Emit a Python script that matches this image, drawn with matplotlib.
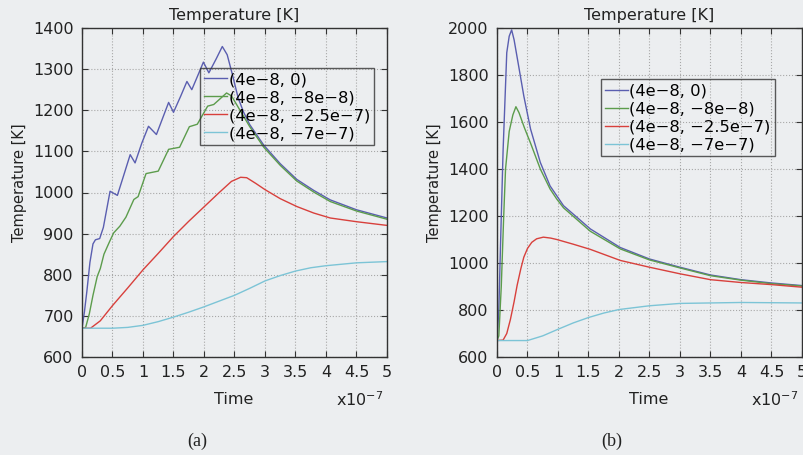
import numpy as np
import matplotlib.pyplot as plt
from matplotlib.ticker import FormatStrFormatter, MultipleLocator

# time axis in units of 1e-7 s
labels = ['(4e\u22128, 0)', '(4e\u22128, \u22128e\u22128)', '(4e\u22128, \u22122.5e\u22127)', '(4e\u22128, \u22127e\u22127)']
colors = ['#5a5eb0', '#5c9c4c', '#d8403c', '#7cc4d6']

# panel (a)
ta_blue = [0, 0.04, 0.08, 0.13, 0.18, 0.22, 0.29, 0.35, 0.46, 0.58, 0.68, 0.79, 0.87, 0.98, 1.09, 1.22,
           1.32, 1.42, 1.50, 1.62, 1.72, 1.80, 1.90, 1.99, 2.08, 2.20, 2.30, 2.38, 2.46, 2.56, 2.65, 2.75,
           2.98, 3.25, 3.52, 3.8, 4.07, 4.5, 5.0]
Ta_blue = [670, 710, 760, 830, 875, 885, 888, 915, 1003, 993, 1040, 1092, 1072, 1120, 1161, 1141,
           1180, 1219, 1195, 1235, 1270, 1250, 1285, 1317, 1291, 1325, 1355, 1335, 1290, 1230, 1195, 1165,
           1115, 1070, 1032, 1005, 982, 958, 938]
ta_green = [0, 0.06, 0.12, 0.18, 0.25, 0.30, 0.36, 0.45, 0.52, 0.62, 0.72, 0.85, 0.92, 1.05, 1.25,
            1.42, 1.60, 1.76, 1.89, 2.06, 2.16, 2.37, 2.45, 2.55, 2.65, 2.75, 2.98, 3.25, 3.52, 3.8,
            4.07, 4.5, 5.0]
Ta_green = [670, 672, 705, 750, 796, 815, 850, 880, 902, 918, 940, 983, 990, 1046, 1052,
            1105, 1110, 1160, 1166, 1210, 1214, 1242, 1235, 1210, 1185, 1160, 1110, 1066, 1028, 1001,
            978, 955, 935]
ta_red = [0, 0.14, 0.3, 0.5, 0.75, 1.0, 1.25, 1.5, 1.75, 2.0, 2.25, 2.45, 2.6, 2.7, 2.85, 3.0, 3.25,
          3.52, 3.8, 4.07, 4.5, 5.0]
Ta_red = [670, 670, 688, 725, 768, 812, 852, 893, 930, 965, 1000, 1027, 1037, 1036, 1022, 1007, 985,
          966, 950, 938, 929, 920]
ta_cyan = [0, 0.5, 0.75, 1.0, 1.25, 1.5, 1.75, 2.0, 2.25, 2.5, 2.75, 3.0, 3.25, 3.5, 3.75, 4.0, 4.5, 5.0]
Ta_cyan = [670, 670, 672, 677, 686, 697, 709, 722, 736, 750, 767, 785, 798, 809, 817, 822, 829, 832]

# panel (b)
tb_blue = [0, 0.03, 0.06, 0.10, 0.16, 0.20, 0.24, 0.28, 0.355, 0.44, 0.55, 0.71, 0.87, 1.09, 1.53,
           2.02, 2.5, 3.0, 3.5, 4.0, 4.5, 5.0]
Tb_blue = [670, 800, 1100, 1480, 1895, 1965, 1992, 1950, 1838, 1710, 1570, 1428, 1328, 1244, 1145,
           1066, 1017, 982, 949, 929, 915, 904]
tb_green = [0, 0.03, 0.07, 0.11, 0.14, 0.20, 0.26, 0.31, 0.36, 0.45, 0.55, 0.71, 0.87, 0.98, 1.09,
            1.53, 2.02, 2.5, 3.0, 3.5, 4.0, 4.5, 5.0]
Tb_green = [670, 690, 900, 1200, 1400, 1560, 1630, 1665, 1640, 1575, 1510, 1400, 1315, 1272, 1235,
            1135, 1060, 1013, 979, 946, 927, 912, 902]
tb_red = [0, 0.1, 0.16, 0.22, 0.28, 0.33, 0.39, 0.44, 0.50, 0.57, 0.65, 0.76, 0.88, 0.98, 1.25, 1.53,
          2.02, 2.5, 3.0, 3.5, 4.0, 4.5, 5.0]
Tb_red = [670, 672, 700, 760, 835, 905, 975, 1025, 1062, 1088, 1103, 1110, 1106, 1100, 1080, 1058,
          1011, 982, 954, 929, 917, 908, 897]
tb_cyan = [0, 0.5, 0.75, 1.0, 1.25, 1.5, 1.75, 2.0, 2.5, 3.0, 3.5, 4.0, 4.5, 5.0]
Tb_cyan = [670, 670, 690, 718, 745, 768, 787, 802, 818, 828, 830, 832, 831, 830]

bg = '#eceef0'
fig = plt.figure(figsize=(8.04, 4.55), dpi=100, facecolor=bg)
ax1 = fig.add_axes([82 / 804, 98 / 455, 305 / 804, 329 / 455])
ax2 = fig.add_axes([497 / 804, 98 / 455, 305 / 804, 329 / 455])

panels = [
    (ax1, [(ta_blue, Ta_blue), (ta_green, Ta_green), (ta_red, Ta_red), (ta_cyan, Ta_cyan)],
     (600, 1400), 100, (0.387, 0.878)),
    (ax2, [(tb_blue, Tb_blue), (tb_green, Tb_green), (tb_red, Tb_red), (tb_cyan, Tb_cyan)],
     (600, 2000), 200, (0.340, 0.844)),
]

for ax, series, ylim, ystep, leg_pos in panels:
    ax.set_facecolor(bg)
    for (t, T), c, lab in zip(series, colors, labels):
        ax.plot(t, T, color=c, lw=1.0, label=lab)
    ax.set_xlim(0, 5)
    ax.set_ylim(*ylim)
    ax.xaxis.set_major_locator(MultipleLocator(0.5))
    ax.yaxis.set_major_locator(MultipleLocator(ystep))
    ax.xaxis.set_major_formatter(FormatStrFormatter('%g'))
    ax.yaxis.set_major_formatter(FormatStrFormatter('%g'))
    ax.tick_params(direction='in', top=True, right=True, length=4, width=0.8,
                   labelsize=11.5, pad=6, colors='#333333', labelcolor='#222222')
    ax.grid(True, linestyle=':', color='#a8a8a8', lw=0.8)
    for s in ax.spines.values():
        s.set_color('#333333')
        s.set_linewidth(1.0)
    ax.set_title('Temperature [K]', fontsize=11.5, pad=6, color='#222222')
    ax.set_ylabel('Temperature [K]', fontsize=10.5, color='#222222')
    ax.yaxis.set_label_coords(-0.18, 0.53)
    ax.set_xlabel('Time', fontsize=11.5, color='#222222')
    ax.xaxis.set_label_coords(0.497, -0.105)
    ax.text(0.99, -0.13, 'x10$^{-7}$', transform=ax.transAxes, ha='right', va='center',
            fontsize=11.5, color='#222222')
    leg = ax.legend(loc='upper left', bbox_to_anchor=leg_pos, fontsize=11.8, frameon=True,
                    fancybox=False, labelspacing=0.18, handlelength=1.4, handletextpad=0.1,
                    borderpad=0.25, borderaxespad=0)
    leg.get_frame().set_facecolor('none')
    leg.get_frame().set_edgecolor('#333333')
    leg.get_frame().set_linewidth(1.0)

fig.text(197 / 804, 1 - 441 / 455, '(a)', ha='center', va='center', fontsize=13,
         family='Liberation Serif', color='#222222')
fig.text(612 / 804, 1 - 441 / 455, '(b)', ha='center', va='center', fontsize=13,
         family='Liberation Serif', color='#222222')

fig.savefig('out.png', dpi=100, facecolor=bg)
